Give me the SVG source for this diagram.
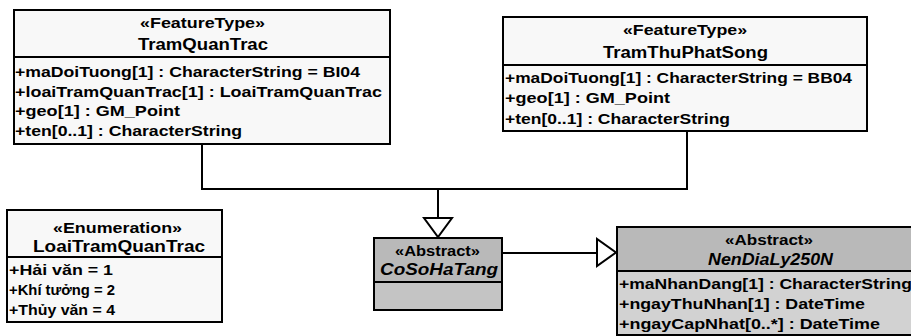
<svg xmlns="http://www.w3.org/2000/svg" width="911" height="336" viewBox="0 0 911 336">
<style>
  .box { stroke: #000; stroke-width: 2; }
  .light { fill: #f8f8f8; }
  .grayH { fill: #b9b9b9; }
  .grayB { fill: #c4c4c4; }
  .grayA { fill: #d2d2d2; }
  .div { stroke: #000; stroke-width: 2; }
  text { font-family: "Liberation Sans", Arial, sans-serif; font-weight: bold; fill: #000; }
  .st { font-size: 14px; }
  .nm { font-size: 16px; }
  .it { font-style: italic; }
  .at { font-size: 15px; }
  .conn { fill: none; stroke: #000; stroke-width: 2; }
  .head { fill: #fff; stroke: #000; stroke-width: 2; stroke-linejoin: miter; }
</style>

<g id="connectors">
  <path class="conn" d="M202 144 V189 H687 V131"/>
  <path class="conn" d="M438 189 V218"/>
  <polygon class="head" points="424,218 452,218 438,237"/>
  <path class="conn" d="M502 253 H597"/>
  <polygon class="head" points="597,239 597,266 616,252.5"/>
</g>

<g id="TramQuanTrac">
  <rect class="box light" x="14" y="10" width="376" height="134"/>
  <line class="div" x1="14" y1="57" x2="390" y2="57"/>
  <text class="st" x="140" y="28" textLength="125" lengthAdjust="spacingAndGlyphs">«FeatureType»</text>
  <text class="nm" x="138" y="50" textLength="130" lengthAdjust="spacingAndGlyphs">TramQuanTrac</text>
  <text class="at" x="15" y="77" textLength="345" lengthAdjust="spacingAndGlyphs">+maDoiTuong[1] : CharacterString = BI04</text>
  <text class="at" x="15" y="97" textLength="367" lengthAdjust="spacingAndGlyphs">+loaiTramQuanTrac[1] : LoaiTramQuanTrac</text>
  <text class="at" x="15" y="116" textLength="165" lengthAdjust="spacingAndGlyphs">+geo[1] : GM_Point</text>
  <text class="at" x="15" y="136" textLength="227" lengthAdjust="spacingAndGlyphs">+ten[0..1] : CharacterString</text>
</g>

<g id="TramThuPhatSong">
  <rect class="box light" x="503" y="17" width="364" height="114"/>
  <line class="div" x1="503" y1="65" x2="867" y2="65"/>
  <text class="st" x="623" y="35" textLength="124" lengthAdjust="spacingAndGlyphs">«FeatureType»</text>
  <text class="nm" x="603" y="58" textLength="165" lengthAdjust="spacingAndGlyphs">TramThuPhatSong</text>
  <text class="at" x="505" y="83" textLength="347" lengthAdjust="spacingAndGlyphs">+maDoiTuong[1] : CharacterString = BB04</text>
  <text class="at" x="505" y="103" textLength="165" lengthAdjust="spacingAndGlyphs">+geo[1] : GM_Point</text>
  <text class="at" x="505" y="124" textLength="225" lengthAdjust="spacingAndGlyphs">+ten[0..1] : CharacterString</text>
</g>

<g id="LoaiTramQuanTrac">
  <rect class="box light" x="7" y="210" width="215" height="112"/>
  <line class="div" x1="7" y1="257" x2="222" y2="257"/>
  <text class="st" x="53" y="233" textLength="129" lengthAdjust="spacingAndGlyphs">«Enumeration»</text>
  <text class="nm" x="33" y="252" textLength="172" lengthAdjust="spacingAndGlyphs">LoaiTramQuanTrac</text>
  <text class="at" x="9" y="275" textLength="104" lengthAdjust="spacingAndGlyphs">+Hải văn = 1</text>
  <text class="at" x="9" y="295" textLength="106" lengthAdjust="spacingAndGlyphs">+Khí tưởng = 2</text>
  <text class="at" x="9" y="315" textLength="106" lengthAdjust="spacingAndGlyphs">+Thủy văn = 4</text>
</g>

<g id="CoSoHaTang">
  <rect class="box grayH" x="374" y="238" width="128" height="44"/>
  <rect class="box grayB" x="374" y="282" width="128" height="28"/>
  <text class="st" x="395" y="256" textLength="85" lengthAdjust="spacingAndGlyphs">«Abstract»</text>
  <text class="nm it" x="380" y="275" textLength="118" lengthAdjust="spacingAndGlyphs" style="font-size:17px">CoSoHaTang</text>
</g>

<g id="NenDiaLy250N">
  <rect class="box grayH" x="617" y="227" width="310" height="44"/>
  <rect class="box grayA" x="617" y="271" width="310" height="64"/>
  <text class="st" x="725" y="245" textLength="88" lengthAdjust="spacingAndGlyphs">«Abstract»</text>
  <text class="nm it" x="708" y="265" textLength="125" lengthAdjust="spacingAndGlyphs">NenDiaLy250N</text>
  <text class="at" x="619" y="289" textLength="293" lengthAdjust="spacingAndGlyphs">+maNhanDang[1] : CharacterString</text>
  <text class="at" x="619" y="309" textLength="246" lengthAdjust="spacingAndGlyphs">+ngayThuNhan[1] : DateTime</text>
  <text class="at" x="619" y="329" textLength="261" lengthAdjust="spacingAndGlyphs">+ngayCapNhat[0..*] : DateTime</text>
</g>
</svg>
